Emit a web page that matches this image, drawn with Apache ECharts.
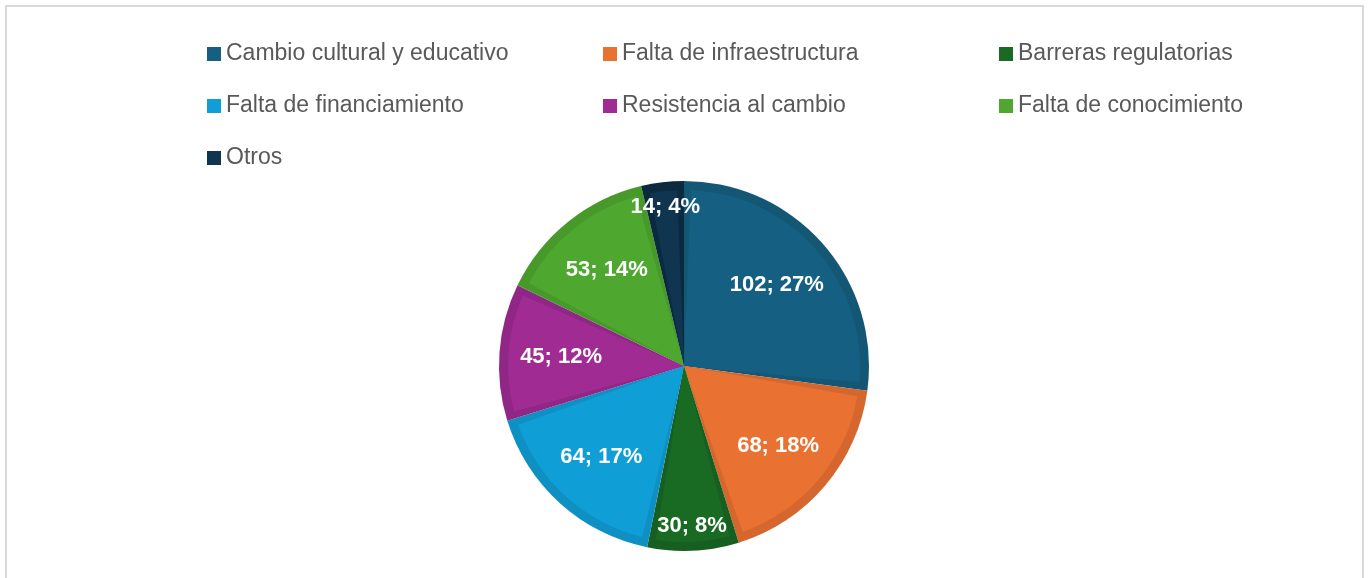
<!DOCTYPE html>
<html>
<head>
<meta charset="utf-8">
<script src="https://cdn.jsdelivr.net/npm/echarts@6/dist/echarts.min.js"></script>
<style>
    html, body { margin: 0; padding: 0; background: #fff; }
    #chart { width: 1370px; height: 578px; }
</style>
</head>
<body>
<div id="chart"></div>
<script>
// data
const categories = [
    'Cambio cultural y educativo',
    'Falta de infraestructura',
    'Barreras regulatorias',
    'Falta de financiamiento',
    'Resistencia al cambio',
    'Falta de conocimiento',
    'Otros'
]
const values = [102, 68, 30, 64, 45, 53, 14]

// slice fill and the darker inset band round it
const fillColors = ['#156082', '#e97132', '#196b24', '#0f9ed5', '#a02b93', '#4ea72e', '#0f3550']
const edgeColors = ['#135775', '#d5672e', '#175f21', '#0e90c3', '#902685', '#479a2a', '#0b2a3f']

const FONT = '"Liberation Sans", Arial, sans-serif'
const center = [684, 366]
const R = 185

// labels sit on rings, the two thin slices further out (like Excel's best fit)
const outerLabelSlices = ['Barreras regulatorias', 'Otros']
const labelRings = [
    { radius: [R * 0.32, R * 0.98], outer: false },
    { radius: [R * 0.7, R * 1.0], outer: true }
]

function items(colors) {
    return categories.map((name, i) => ({
        name: name,
        value: values[i],
        itemStyle: { color: colors[i] }
    }))
}

function labelItems(outer) {
    return categories.map((name, i) => ({
        name: name,
        value: values[i],
        label: { show: outerLabelSlices.includes(name) === outer }
    }))
}

const labelStyle = {
    position: 'inside',
    formatter: '{c}; {d}%',
    color: '#ffffff',
    fontFamily: FONT,
    fontWeight: 'bold',
    fontSize: 22
}

const baseSeries = {
    type: 'pie',
    center: center,
    startAngle: 90,
    clockwise: true,
    animation: false,
    silent: true,
    percentPrecision: 0,
    emphasis: { disabled: true },
    labelLine: { show: false }
}

const chart = echarts.init(document.getElementById('chart'))

chart.setOption({
    backgroundColor: '#ffffff',
    animation: false,
    graphic: [{
        type: 'rect',
        shape: { x: 6, y: 6, width: 1357, height: 620 },
        style: { fill: 'none', stroke: '#d9d9d9', lineWidth: 2 },
        silent: true
    }],
    legend: {
        left: 207,
        top: 38,
        width: 1200,
        padding: 0,
        orient: 'horizontal',
        icon: 'rect',
        itemWidth: 14,
        itemHeight: 14,
        itemGap: 20,
        selectedMode: false,
        data: categories,
        textStyle: {
            color: '#595959',
            fontFamily: FONT,
            fontSize: 23,
            width: 357,
            lineHeight: 32
        }
    },
    series: [
        Object.assign({}, baseSeries, {
            name: 'fill',
            z: 3,
            radius: [0, R - 9],
            padAngle: 4.5,
            data: items(fillColors),
            label: { show: false }
        }),
        Object.assign({}, baseSeries, {
            name: 'edge',
            z: 2,
            radius: [0, R],
            data: items(edgeColors),
            label: { show: false }
        })
    ].concat(labelRings.map((ring, k) => Object.assign({}, baseSeries, {
        name: 'labels' + k,
        z: 4,
        radius: ring.radius,
        data: labelItems(ring.outer),
        itemStyle: { color: 'transparent' },
        label: labelStyle
    })))
})
</script>
</body>
</html>
